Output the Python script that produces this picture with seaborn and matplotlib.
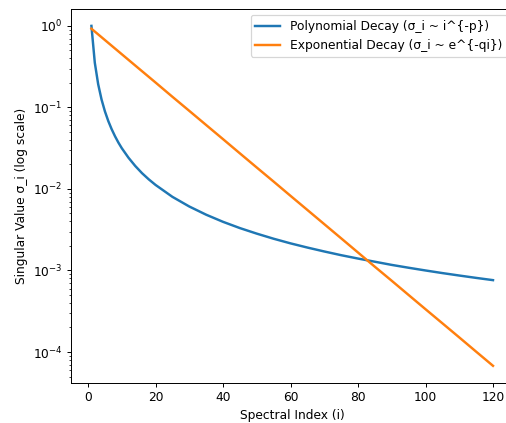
import numpy as np
import pandas as pd
import seaborn as sns
import matplotlib.pyplot as plt

# values
poly_idx = [1, 2, 3, 4, 5, 6, 7, 8, 9, 10, 12, 14, 16, 18, 20, 25, 30, 35, 40, 45, 50,
            55, 60, 65, 70, 75, 80, 85, 90, 95, 100, 105, 110, 115, 120]
poly_vals = [1.0, 0.3536, 0.1925, 0.125, 0.0894, 0.0680, 0.0540, 0.0442, 0.0370, 0.0316,
             0.0241, 0.0191, 0.0156, 0.0131, 0.0112, 0.0080, 0.00609, 0.00483, 0.00395,
             0.00331, 0.00283, 0.00245, 0.00215, 0.00191, 0.00171, 0.00154, 0.00140,
             0.00128, 0.00117, 0.00108, 0.00100, 0.000929, 0.000867, 0.000811, 0.000761]

exp_idx = [1, 5, 10, 15, 20, 25, 30, 35, 40, 45, 50, 55, 60, 65, 70, 75, 80, 85, 90,
           95, 100, 105, 110, 115, 120]
exp_vals = [0.923, 0.670, 0.449, 0.301, 0.202, 0.135, 0.0907, 0.0608, 0.0408, 0.0273,
            0.0183, 0.0123, 0.00823, 0.00552, 0.00370, 0.00248, 0.00166, 0.00111,
            0.000747, 0.000500, 0.000335, 0.000225, 0.000151, 0.000101, 0.0000677]

poly_label = "Polynomial Decay (σ_i ~ i^{-p})"
exp_label = "Exponential Decay (σ_i ~ e^{-qi})"

df_poly = pd.DataFrame({"i": poly_idx, "sigma": poly_vals})
df_exp = pd.DataFrame({"i": exp_idx, "sigma": exp_vals})

DPI = 88  # reference looks like a downscaled notebook figure
fig = plt.figure(figsize=(506 / DPI, 423 / DPI), dpi=DPI)
# the reference is cropped on the right, so the axes run past the figure edge
ax = fig.add_axes([0.141, 0.095, 0.873, 0.884])

sns.lineplot(data=df_poly, x="i", y="sigma", ax=ax, color="#1f77b4", linewidth=2, label=poly_label)
sns.lineplot(data=df_exp, x="i", y="sigma", ax=ax, color="#ff7f0e", linewidth=2, label=exp_label)

ax.set_yscale("log")
ax.set_xticks([0, 20, 40, 60, 80, 100, 120])
ax.set_xlabel("Spectral Index (i)")
ax.set_ylabel("Singular Value σ_i (log scale)")
ax.legend(loc="upper right")

fig.savefig("out.png", dpi=DPI)
